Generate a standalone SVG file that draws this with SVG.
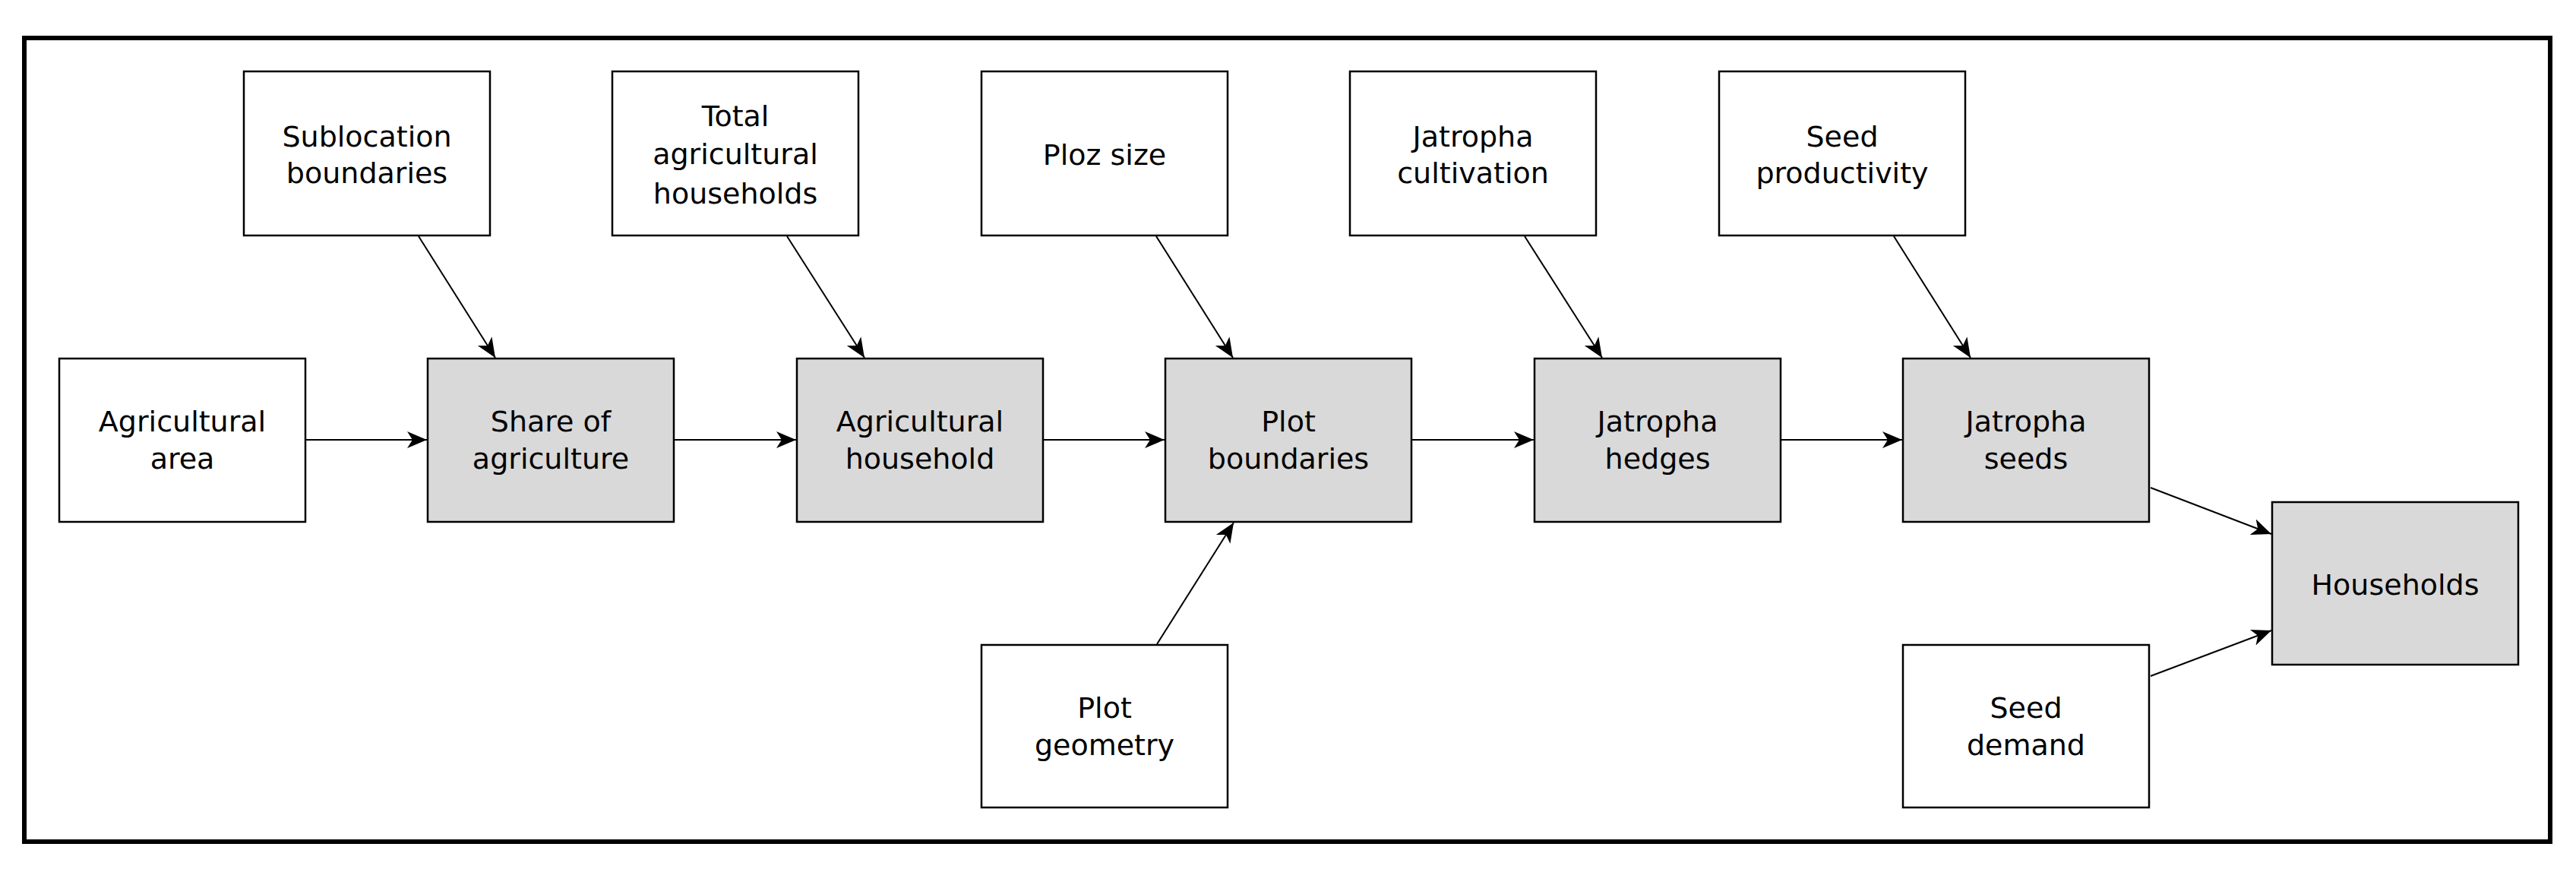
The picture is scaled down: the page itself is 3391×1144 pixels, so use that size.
<svg xmlns="http://www.w3.org/2000/svg" width="3391" height="1144" viewBox="0 0 3391 1144">
<style>
.b{fill:#fff;stroke:#000;stroke-width:2.5}
.g{fill:#d9d9d9;stroke:#000;stroke-width:2.5}
text{font-family:"DejaVu Sans",sans-serif;font-size:38px;text-anchor:middle;fill:#000}
.c line{stroke:#000;stroke-width:2;marker-end:url(#a)}
</style>
<defs>
<marker id="a" markerUnits="userSpaceOnUse" markerWidth="30" markerHeight="24" refX="26" refY="11" orient="auto" viewBox="0 0 30 22">
<path d="M0,0 L26,11 L0,22 L7,11 Z" fill="#000"/>
</marker>
</defs>
<rect x="0" y="0" width="3391" height="1144" fill="#fff"/>
<rect x="32" y="50" width="3325" height="1058" fill="none" stroke="#000" stroke-width="6"/>
<g id="n1"><rect class="b" x="78" y="472" width="324" height="215"/><text x="240" y="568">Agricultural</text><text x="240" y="617">area</text></g>
<g id="n2"><rect class="g" x="563" y="472" width="324" height="215"/><text x="725" y="568">Share of</text><text x="725" y="617">agriculture</text></g>
<g id="n3"><rect class="g" x="1049" y="472" width="324" height="215"/><text x="1211" y="568">Agricultural</text><text x="1211" y="617">household</text></g>
<g id="n4"><rect class="g" x="1534" y="472" width="324" height="215"/><text x="1696" y="568">Plot</text><text x="1696" y="617">boundaries</text></g>
<g id="n5"><rect class="g" x="2020" y="472" width="324" height="215"/><text x="2182" y="568">Jatropha</text><text x="2182" y="617">hedges</text></g>
<g id="n6"><rect class="g" x="2505" y="472" width="324" height="215"/><text x="2667" y="568">Jatropha</text><text x="2667" y="617">seeds</text></g>
<g id="n7"><rect class="g" x="2991" y="661" width="324" height="214"/><text x="3153" y="783">Households</text></g>
<g id="t1"><rect class="b" x="321" y="94" width="324" height="216"/><text x="483" y="193">Sublocation</text><text x="483" y="241">boundaries</text></g>
<g id="t2"><rect class="b" x="806" y="94" width="324" height="216"/><text x="968" y="166">Total</text><text x="968" y="216">agricultural</text><text x="968" y="268">households</text></g>
<g id="t3"><rect class="b" x="1292" y="94" width="324" height="216"/><text x="1454" y="217">Ploz size</text></g>
<g id="t4"><rect class="b" x="1777" y="94" width="324" height="216"/><text x="1939" y="193">Jatropha</text><text x="1939" y="241">cultivation</text></g>
<g id="t5"><rect class="b" x="2263" y="94" width="324" height="216"/><text x="2425" y="193">Seed</text><text x="2425" y="241">productivity</text></g>
<g id="b1"><rect class="b" x="1292" y="849" width="324" height="214"/><text x="1454" y="945">Plot</text><text x="1454" y="994">geometry</text></g>
<g id="b2"><rect class="b" x="2505" y="849" width="324" height="214"/><text x="2667" y="945">Seed</text><text x="2667" y="994">demand</text></g>
<g class="c" id="connectors">
<line x1="402" y1="579" x2="562" y2="579"/>
<line x1="887" y1="579" x2="1048" y2="579"/>
<line x1="1373" y1="579" x2="1533" y2="579"/>
<line x1="1858" y1="579" x2="2019" y2="579"/>
<line x1="2344" y1="579" x2="2504" y2="579"/>
<line x1="551" y1="311" x2="652" y2="471"/>
<line x1="1036" y1="311" x2="1138" y2="471"/>
<line x1="1522" y1="311" x2="1623" y2="471"/>
<line x1="2007" y1="311" x2="2109" y2="471"/>
<line x1="2493" y1="311" x2="2594" y2="471"/>
<line x1="1523" y1="848" x2="1624" y2="688"/>
<line x1="2831" y1="642" x2="2990" y2="703"/>
<line x1="2831" y1="890" x2="2990" y2="830"/>
</g>
</svg>
